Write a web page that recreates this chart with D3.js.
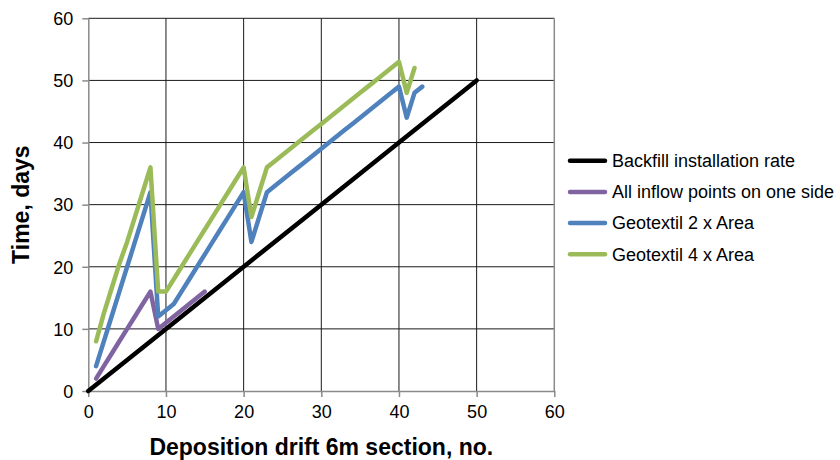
<!DOCTYPE html>
<html>
<head>
<meta charset="utf-8">
<script src="https://cdn.jsdelivr.net/npm/d3@7"></script>
<style>
  html, body { margin: 0; padding: 0; background: #fff; }
  svg { display: block; font-family: "Liberation Sans", Arial, sans-serif; }
</style>
</head>
<body>
<svg id="chart" width="840" height="460"></svg>
<script>
// Deposition drift sections (x) and elapsed time in days (y) per series
const backfillSections = [0, 10, 20, 30, 40, 50];
const backfillDays     = [0, 10, 20, 30, 40, 50];

const oneSideSections = [1, 2, 3, 4, 5, 6, 7, 8, 9, 10, 11, 12, 13, 14, 15];
const oneSideDays     = [2, 4, 6, 8, 10, 12, 14, 16, 10, 11, 12, 13, 14, 15, 16];

const geo2Sections = [1, 2, 3, 4, 5, 6, 7, 8, 9, 10, 11, 12, 13, 14, 15, 16, 17, 18, 19, 20,
                      21, 22, 23, 24, 25, 26, 27, 28, 29, 30, 31, 32, 33, 34, 35, 36, 37, 38, 39, 40,
                      41, 42, 43];
const geo2Days     = [4, 8, 12, 16, 20, 24, 28, 32, 12, 13, 14, 16, 18, 20, 22, 24, 26, 28, 30, 32,
                      24, 28, 32, 33, 34, 35, 36, 37, 38, 39, 40, 41, 42, 43, 44, 45, 46, 47, 48, 49,
                      44, 48, 49];

const geo4Sections = [1, 2, 3, 4, 5, 6, 7, 8, 9, 10, 11, 12, 13, 14, 15, 16, 17, 18, 19, 20,
                      21, 22, 23, 24, 25, 26, 27, 28, 29, 30, 31, 32, 33, 34, 35, 36, 37, 38, 39, 40,
                      41, 42];
const geo4Days     = [8, 12.5, 16.5, 20.5, 24, 28, 32, 36, 16, 16, 18, 20, 22, 24, 26, 28, 30, 32, 34, 36,
                      28, 32, 36, 37, 38, 39, 40, 41, 42, 43, 44, 45, 46, 47, 48, 49, 50, 51, 52, 53,
                      48, 52];

const seriesNames  = ["Backfill installation rate", "All inflow points on one side",
                      "Geotextil 2 x Area", "Geotextil 4 x Area"];
const seriesColors = ["#000000", "#8064A2", "#4F81BD", "#9BBB59"];

const xTicks = [0, 10, 20, 30, 40, 50, 60];
const yTicks = [0, 10, 20, 30, 40, 50, 60];

const xTitle = "Deposition drift 6m section, no.";
const yTitle = "Time, days";

const series = [
  { xs: backfillSections, ys: backfillDays },
  { xs: oneSideSections,  ys: oneSideDays },
  { xs: geo2Sections,     ys: geo2Days },
  { xs: geo4Sections,     ys: geo4Days }
].map((s, i) => ({
  name: seriesNames[i],
  color: seriesColors[i],
  points: s.xs.map((x, j) => [x, s.ys[j]])
}));

const svg = d3.select("#chart");
const plotLeft = 88.3, plotRight = 554.3, plotTop = 18.3, plotBottom = 391;

const x = d3.scaleLinear().domain([0, 60]).range([plotLeft, plotRight]);
const y = d3.scaleLinear().domain([0, 60]).range([plotBottom, plotTop]);

svg.append("rect").attr("width", 840).attr("height", 460).attr("fill", "#fff");

// grid lines
const grid = svg.append("g");
grid.selectAll("line.gx").data(xTicks.filter(t => t > 0 && t < 60)).join("line")
  .attr("class", "gx")
  .attr("x1", d => x(d)).attr("x2", d => x(d))
  .attr("y1", plotTop).attr("y2", plotBottom)
  .attr("stroke", "#1a1a1a").attr("stroke-width", 1);
grid.selectAll("line.gy").data(yTicks.filter(t => t > 0)).join("line")
  .attr("class", "gy")
  .attr("x1", plotLeft).attr("x2", plotRight)
  .attr("y1", d => y(d)).attr("y2", d => y(d))
  .attr("stroke", "#1a1a1a").attr("stroke-width", 1);

// right border of plot area
svg.append("line")
  .attr("x1", plotRight).attr("x2", plotRight).attr("y1", plotTop).attr("y2", plotBottom)
  .attr("stroke", "#8a8a8a").attr("stroke-width", 1.5);

// axes
const xAxis = svg.append("g").attr("transform", `translate(0,${plotBottom})`)
  .call(d3.axisBottom(x).tickValues(xTicks).tickSize(6).tickSizeOuter(0).tickPadding(6));
const yAxis = svg.append("g").attr("transform", `translate(${plotLeft},0)`)
  .call(d3.axisLeft(y).tickValues(yTicks).tickSize(6).tickSizeOuter(0).tickPadding(9));

[xAxis, yAxis].forEach(a => {
  a.select(".domain").attr("stroke", "#8a8a8a").attr("stroke-width", 1.5);
  a.selectAll(".tick line").attr("stroke", "#8a8a8a").attr("stroke-width", 1.5);
  a.selectAll(".tick text").attr("fill", "#000")
    .style("font-size", "18px").style("font-family", "'Liberation Sans', Arial, sans-serif");
});
xAxis.selectAll(".tick text").attr("dy", "0.85em");
yAxis.selectAll(".tick text").attr("dy", "0.35em");

// series lines
const line = d3.line().x(d => x(d[0])).y(d => y(d[1]));
svg.append("g").selectAll("path").data(series).join("path")
  .attr("d", d => line(d.points))
  .attr("fill", "none")
  .attr("stroke", d => d.color)
  .attr("stroke-width", 4.5)
  .attr("stroke-linejoin", "round")
  .attr("stroke-linecap", "round");

// axis titles
svg.append("text")
  .attr("x", (plotLeft + plotRight) / 2).attr("y", 455)
  .attr("text-anchor", "middle")
  .style("font-size", "23px").style("font-weight", "bold")
  .text(xTitle);
svg.append("text")
  .attr("transform", `translate(29,${(plotTop + plotBottom) / 2}) rotate(-90)`)
  .attr("text-anchor", "middle")
  .style("font-size", "23px").style("font-weight", "bold")
  .text(yTitle);

// legend
const legend = svg.append("g").attr("transform", "translate(570,160.7)");
const rows = legend.selectAll("g").data(series).join("g")
  .attr("transform", (d, i) => `translate(0,${i * 31.2})`);
rows.append("line")
  .attr("x1", 0).attr("x2", 35).attr("y1", 0).attr("y2", 0)
  .attr("stroke", d => d.color).attr("stroke-width", 4.5).attr("stroke-linecap", "round");
rows.append("text")
  .attr("x", 42).attr("dy", "0.35em")
  .style("font-size", "18px")
  .text(d => d.name);
</script>
</body>
</html>
